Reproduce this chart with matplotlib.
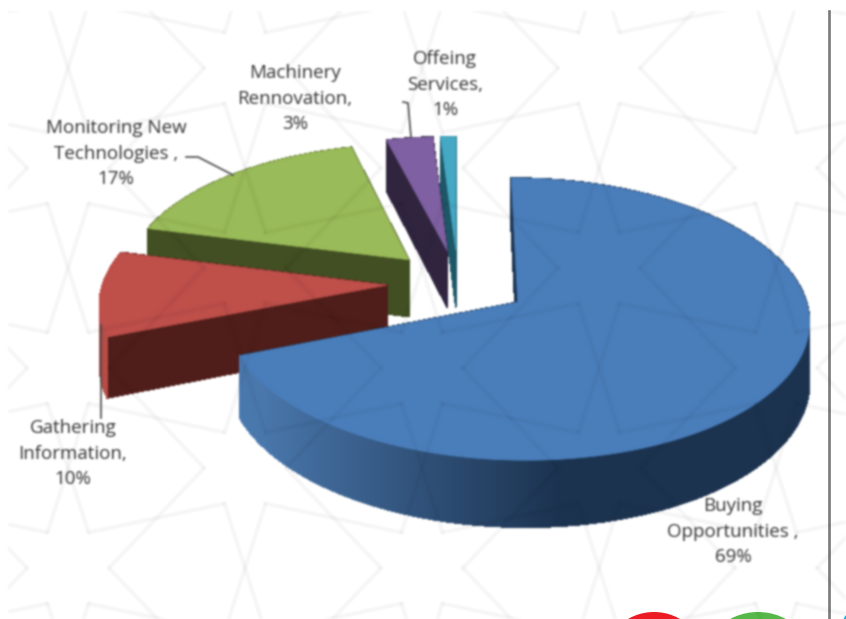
import numpy as np
import matplotlib
matplotlib.use('Agg')
import matplotlib.pyplot as plt
from matplotlib.collections import LineCollection, PolyCollection
from matplotlib.patches import Circle, Polygon

categories = ['Buying\nOpportunities ,', 'Gathering\nInformation,', 'Monitoring New\nTechnologies ,',
              'Machinery\nRennovation,', 'Offeing\nServices,']
shares = [69, 10, 17, 3, 1]

top_colors = ['#4a7ebb', '#be4f4a', '#9abb59', '#7f60a2', '#45a9c4']
side_dark = ['#1c3350', '#4f1e1a', '#414f22', '#30253f', '#1d5666']
side_light = ['#4a78ad', '#b84c47', '#5b6e2f', '#30253f', '#1d5666']
label_xy = [(733, 505), (73, 427), (116, 127), (295, 72), (445, 58)]

# projection of the pie plane onto the picture
CX, CY = 458, 283
RX, RY = 284, 134.5
PERSP = 0.1177
DEPTH = 58
EXPLODE = 0.25


def project(u, v, down=0.0):
    den = 1 + PERSP * v
    return np.column_stack([CX + RX * u / den, CY - RY * v / den + down * DEPTH / den])


def blur(img, dpi):
    k = np.array([0.06, 0.24, 0.4, 0.24, 0.06])
    pad = 6
    out = np.pad(img, ((pad, pad), (pad, pad), (0, 0))).astype(float)
    alpha = out[:, :, 3:4]
    out[:, :, :3] = out[:, :, :3] * alpha
    for ax_n in (0, 1):
        out = np.apply_along_axis(lambda m: np.convolve(m, k, mode='same'), ax_n, out)
    alpha = out[:, :, 3:4]
    out[:, :, :3] = np.clip(out[:, :, :3] / np.maximum(alpha, 1e-4), 0, 1)
    return out, -pad, -pad


def mix(c1, c2, t):
    a = np.array(matplotlib.colors.to_rgb(c1))
    b = np.array(matplotlib.colors.to_rgb(c2))
    return tuple(a + (b - a) * t)


def hex_vertex(c, deg):
    a = np.deg2rad(deg)
    return (c[0] + 41 * np.cos(a), c[1] - 41 * np.sin(a))


fig = plt.figure(figsize=(8.46, 6.19), dpi=100)

# page furniture around the chart, not blurred so it runs off the canvas cleanly
under = fig.add_axes([0, 0, 1, 1])
under.set_xlim(0, 846)
under.set_ylim(619, 0)
under.axis('off')
under.plot([828.5, 828.5], [11, 619], color='#7a7a7a', lw=1.9)
under.add_patch(Circle((654, 664), 52, fc='#ed1c24', ec='none'))
under.add_patch(Circle((758, 671), 59, fc='#55b848', ec='none'))
under.add_patch(Circle((852, 622), 9, fc='#2aa9d6', ec='none'))

ax = fig.add_axes([0, 0, 1, 1])
ax.set_xlim(0, 846)
ax.set_ylim(619, 0)
ax.axis('off')
ax.set_agg_filter(blur)

# the slices, back ones first
edges = np.cumsum([0] + shares) / sum(shares) * 2 * np.pi
for idx in [4, 3, 2, 1, 0]:
    a0, a1 = edges[idx], edges[idx + 1]
    mid = (a0 + a1) / 2
    ou, ov = EXPLODE * np.sin(mid), EXPLODE * np.cos(mid)
    phi = np.linspace(a0, a1, max(int(np.degrees(a1 - a0)) * 2, 4) + 1)
    u = ou + np.sin(phi)
    v = ov + np.cos(phi)

    back, back_c, front, front_c = [], [], [], []
    # rim
    for k in range(len(phi) - 1):
        tu, tv = u[k:k + 2], v[k:k + 2]
        quad = np.vstack([project(tu, tv), project(tu, tv, 1)[::-1]])
        # lighter towards the left of the picture
        t = np.clip((np.sin(phi[k]) + 0.85) / 0.95, 0, 1) if idx == 0 else 0.0
        col = side_light[1] if idx == 1 else mix(side_light[idx], side_dark[idx], t)
        if np.cos(phi[k]) > 0:
            back.append(quad)
            back_c.append(col)
        else:
            front.append(quad)
            front_c.append(col)
    # radial faces go between the back and the front of the rim
    for end_u, end_v in [(u[0], v[0]), (u[-1], v[-1])]:
        tu = np.array([ou, end_u])
        tv = np.array([ov, end_v])
        back.append(np.vstack([project(tu, tv), project(tu, tv, 1)[::-1]]))
        back_c.append(side_dark[idx])
    faces = back + front
    colors = back_c + front_c
    # no antialiasing here, it leaves seams; the blur softens the edge anyway
    sides = PolyCollection(faces, facecolors=colors, edgecolors=colors, linewidths=0.5,
                           antialiaseds=False, zorder=3 + 4 - idx)
    ax.add_collection(sides)

    top = np.vstack([project(np.array([ou]), np.array([ov])), project(u, v)])
    ax.add_patch(Polygon(top, closed=True, fc=top_colors[idx], ec=top_colors[idx], lw=0.5, zorder=3.5 + 4 - idx))

# leader lines
for xs, ys in [([186, 198, 233], [157, 157, 175]), ([403, 408, 411], [102, 103, 137]),
               ([101, 101], [325, 418])]:
    ax.plot(xs, ys, color='#4a4a4a', lw=1.2, zorder=9)

# labels
for name, share, (lx, ly) in zip(categories, shares, label_xy):
    ax.text(lx, ly - 8, name + '\n' + str(share) + '%', ha='center', va='top', family='Open Sans',
            fontsize=13.5, color='#333333', linespacing=1.55, zorder=10)

# faint star lattice lying over everything
segs = []
for m in range(-5, 6):
    for n in range(-5, 6):
        c = (599 + 177 * (m + n), 68 + 100 * (m - n))
        for d, nb in [(30, (c[0] + 177, c[1] - 100)), (90, (c[0], c[1] - 200)), (-30, (c[0] + 177, c[1] + 100))]:
            for th in (d - 30, d + 30):
                segs.append([hex_vertex(c, th), hex_vertex(nb, th + 180)])
area = Polygon([(8, 11), (846, 11), (846, 619), (8, 619)], transform=ax.transData, fc='none', ec='none')
ax.add_patch(area)
lattice = LineCollection(segs, colors=[(0, 0, 0, 0.04)], linewidths=2.8, zorder=8, capstyle='round')
ax.add_collection(lattice)
lattice.set_clip_path(area)

fig.savefig('out.png', dpi=100)
